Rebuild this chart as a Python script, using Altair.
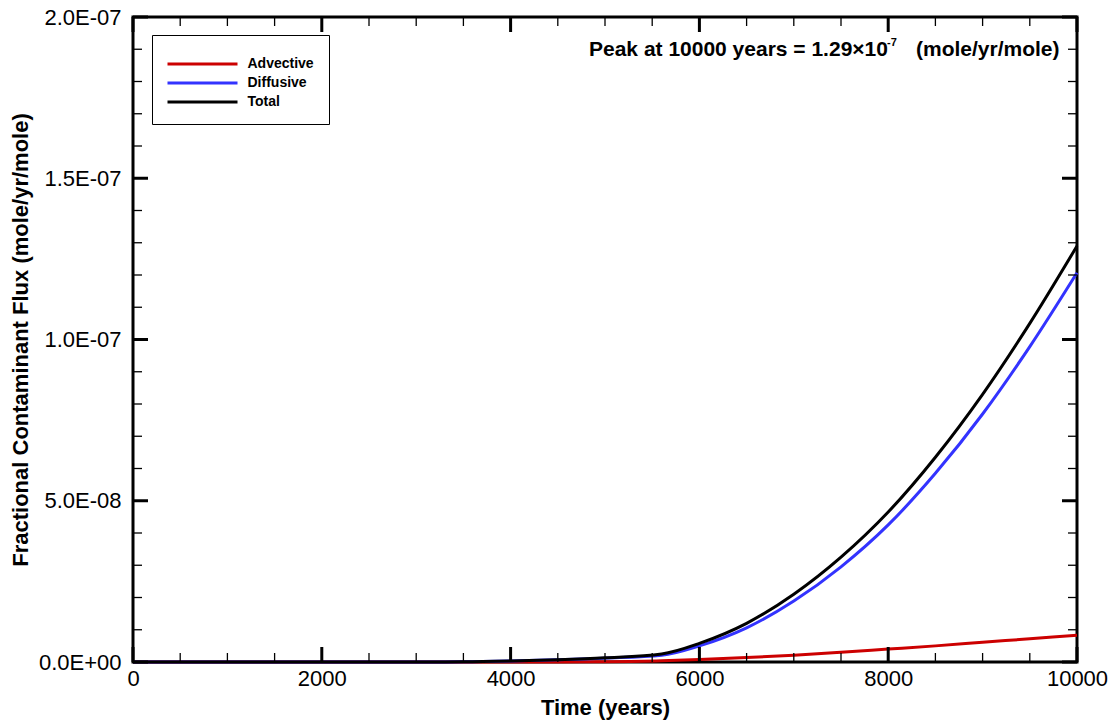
import altair as alt
import pandas as pd

# ---- data ----
T = [0, 1000, 2000, 3000, 3500, 4000, 4500, 5000, 5600, 6000, 6500, 7000, 7500, 8000, 8500, 9000, 9500, 10000]
ADVECTIVE = [0.0, 0.0, 0.0, 0.0, 0.0, 0.0, 0.0, 0.1e-9, 0.4e-9, 0.8e-9, 1.4e-9, 2.1e-9, 3.0e-9, 4.0e-9, 5.0e-9, 6.1e-9, 7.2e-9, 8.3e-9]
DIFFUSIVE = [0.0, 0.0, 0.0, 0.0, 0.05e-9, 0.3e-9, 0.7e-9, 1.2e-9, 2.1e-9, 5.0e-9, 10.6e-9, 18.9e-9, 29.5e-9, 42.5e-9, 58.5e-9, 76.9e-9, 97.8e-9, 120.7e-9]
TOTAL = [0.0, 0.0, 0.0, 0.0, 0.05e-9, 0.3e-9, 0.7e-9, 1.3e-9, 2.5e-9, 5.8e-9, 12.0e-9, 21.0e-9, 32.5e-9, 46.5e-9, 63.5e-9, 83.0e-9, 105.0e-9, 129.0e-9]

SERIES = ["Advective", "Diffusive", "Total"]
COLORS = ["#cc0000", "#3333ff", "#000000"]

X_MAJOR = [0, 2000, 4000, 6000, 8000, 10000]
X_MINOR = [500, 1000, 1500, 2500, 3000, 3500, 4500, 5000, 5500, 6500, 7000, 7500, 8500, 9000, 9500]
Y_MAJOR = [0.0, 5e-8, 1e-7, 1.5e-7, 2e-7]
Y_MINOR = [1e-8, 2e-8, 3e-8, 4e-8, 6e-8, 7e-8, 8e-8, 9e-8, 1.1e-7, 1.2e-7, 1.3e-7, 1.4e-7,
           1.6e-7, 1.7e-7, 1.8e-7, 1.9e-7]

ANNOT_MAIN = ["Peak at 10000 years = 1.29\u00d710"]
ANNOT_SUP = ["-7"]
ANNOT_TAIL = ["(mole/yr/mole)"]

X_TITLE = "Time (years)"
Y_TITLE = "Fractional Contaminant Flux (mole/yr/mole)"

FONT = "Liberation Sans"
W, H = 944, 645

rows = []
for name, vals in zip(SERIES, [ADVECTIVE, DIFFUSIVE, TOTAL]):
    for t, v in zip(T, vals):
        rows.append({"t": t, "v": v, "series": name})
df = pd.DataFrame(rows)

xscale = alt.Scale(domain=[0, 10000], nice=False, zero=False)
yscale = alt.Scale(domain=[0, 2e-7], nice=False)

lines = alt.Chart(df).mark_line(strokeWidth=3, interpolate="monotone").encode(
    x=alt.X("t:Q", scale=xscale,
            axis=alt.Axis(values=X_MAJOR, format="d", labelFlush=False, title=X_TITLE,
                          titlePadding=8, labelPadding=6)),
    y=alt.Y("v:Q", scale=yscale,
            axis=alt.Axis(values=Y_MAJOR, title=Y_TITLE, labelPadding=12, titlePadding=6,
                          labelExpr="replace(replace(format(datum.value, '.1e'), 'e-', 'E-0'), 'e+', 'E+0')")),
    color=alt.Color("series:N", scale=alt.Scale(domain=SERIES, range=COLORS),
                    legend=alt.Legend(orient="none", legendX=19, legendY=18, title=" ",
                                      titleFontSize=2, titlePadding=5,
                                      symbolType="M-7,0H7", symbolSize=100, symbolStrokeWidth=3,
                                      symbolOffset=28.5, labelOffset=38,
                                      labelFont=FONT, labelFontSize=14, labelFontWeight="bold",
                                      labelColor="black",
                                      fillColor="white", strokeColor="black",
                                      padding=15, rowPadding=5)),
)

xmaj = pd.DataFrame({"t": X_MAJOR})
xmin = pd.DataFrame({"t": X_MINOR})
ymaj = pd.DataFrame({"v": Y_MAJOR})
ymin = pd.DataFrame({"v": Y_MINOR})

def xticks(data, length, width):
    b = alt.Chart(data).mark_rule(color="black", strokeWidth=width).encode(
        x=alt.X("t:Q", scale=xscale), y=alt.value(H), y2=alt.value(H - length))
    t = alt.Chart(data).mark_rule(color="black", strokeWidth=width).encode(
        x=alt.X("t:Q", scale=xscale), y=alt.value(0), y2=alt.value(length))
    return [b, t]

def yticks(data, length, width):
    l = alt.Chart(data).mark_rule(color="black", strokeWidth=width).encode(
        y=alt.Y("v:Q", scale=yscale), x=alt.value(0), x2=alt.value(length))
    r = alt.Chart(data).mark_rule(color="black", strokeWidth=width).encode(
        y=alt.Y("v:Q", scale=yscale), x=alt.value(W), x2=alt.value(W - length))
    return [l, r]

ticks = (xticks(xmaj, 15, 3) + xticks(xmin, 9, 1.3) +
         yticks(ymaj, 15, 3) + yticks(ymin, 9, 1.3))

main_txt = alt.Chart(pd.DataFrame({"s": ANNOT_MAIN})).mark_text(
    font=FONT, fontSize=21, fontWeight="bold", align="left", baseline="alphabetic", color="black"
).encode(text="s:N", x=alt.value(456), y=alt.value(39))
sup_txt = alt.Chart(pd.DataFrame({"s": ANNOT_SUP})).mark_text(
    font=FONT, fontSize=11, fontWeight="bold", align="left", baseline="alphabetic", color="black"
).encode(text="s:N", x=alt.value(754), y=alt.value(29))
tail_txt = alt.Chart(pd.DataFrame({"s": ANNOT_TAIL})).mark_text(
    font=FONT, fontSize=21, fontWeight="bold", align="left", baseline="alphabetic", color="black"
).encode(text="s:N", x=alt.value(783), y=alt.value(39))

chart = alt.layer(lines, *ticks, main_txt, sup_txt, tail_txt).properties(
    width=W, height=H,
    padding={"left": 133, "top": 17, "right": 40, "bottom": 65},
    autosize=alt.AutoSizeParams(type="none"),
    background="white",
).configure_view(
    stroke="black", strokeWidth=3
).configure_axis(
    domain=False, ticks=False, grid=False,
    labelFont=FONT, labelFontSize=22, labelColor="black",
    titleFont=FONT, titleFontSize=22, titleFontWeight="bold", titleColor="black",
)

chart.save("out.html", embed_options={"renderer": "svg", "actions": False})
